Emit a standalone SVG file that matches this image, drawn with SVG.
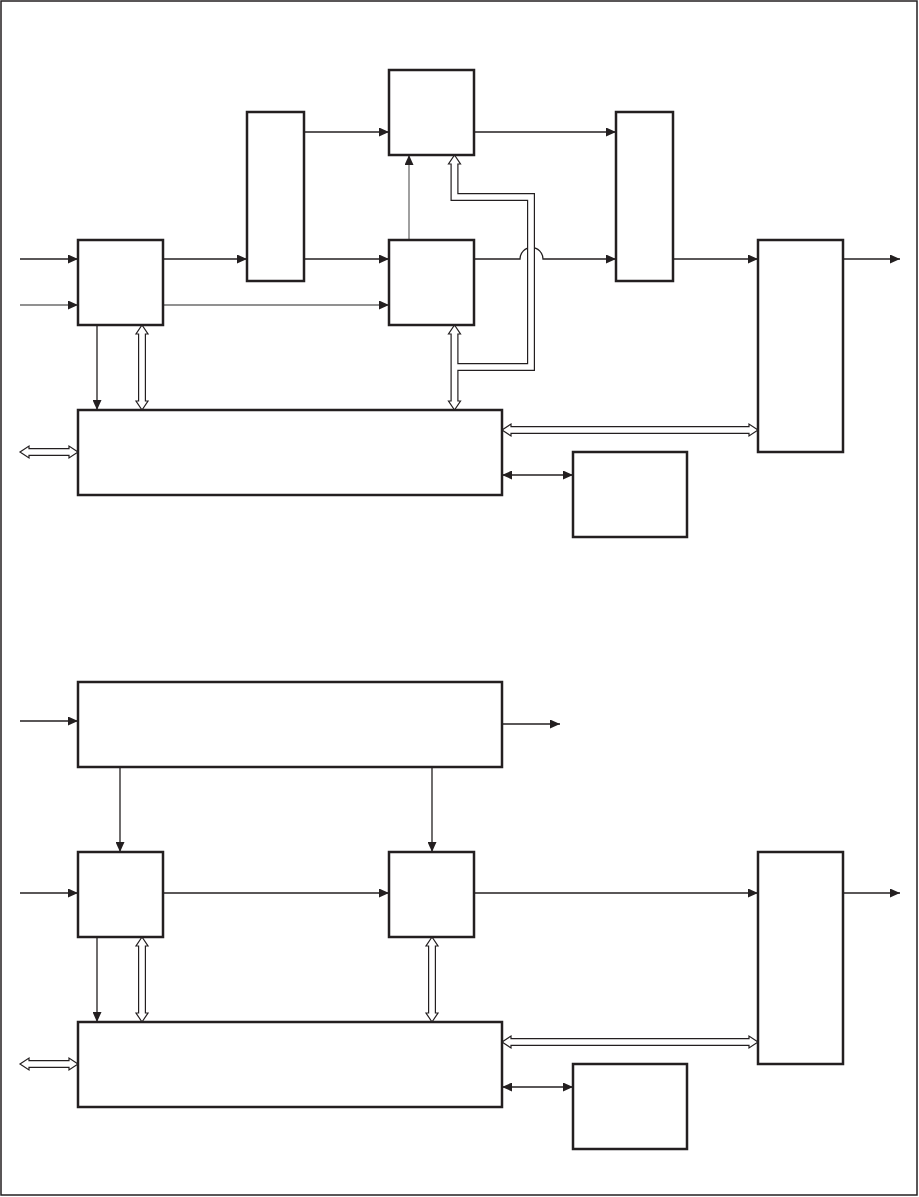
<svg xmlns="http://www.w3.org/2000/svg" width="919" height="1197" viewBox="0 0 919 1197">
<style>
.box{fill:#fff;stroke:#231f20;stroke-width:2.5}
.ln{fill:none;stroke:#231f20;stroke-width:1.3}
.gr{stroke:#6d6d6d}
.hb{fill:none;stroke:#231f20;stroke-width:8;stroke-linejoin:miter}
.hw{fill:none;stroke:#fff;stroke-width:5.6;stroke-linejoin:miter}
.hh{fill:#fff;stroke:#231f20;stroke-width:1.2;stroke-linejoin:miter}
</style>
<defs>
<marker id="ar" markerUnits="userSpaceOnUse" markerWidth="10" markerHeight="9" refX="10" refY="4.5" orient="auto-start-reverse">
<path d="M0,0 L10,4.5 L0,9 z" fill="#231f20"/>
</marker>
</defs>
<rect x="1" y="1" width="916" height="1194" fill="#fff" stroke="#231f20" stroke-width="1.5"/>

<g id="connectors">
<!-- top solid -->
<path class="ln" d="M20,259 H78" marker-end="url(#ar)"/>
<path class="ln gr" d="M20,305 H78" marker-end="url(#ar)"/>
<path class="ln" d="M163,259 H247" marker-end="url(#ar)"/>
<path class="ln gr" d="M163,305 H389" marker-end="url(#ar)"/>
<path class="ln" d="M304,132 H389" marker-end="url(#ar)"/>
<path class="ln" d="M304,259 H389" marker-end="url(#ar)"/>
<path class="ln gr" d="M409,240 V155" marker-end="url(#ar)"/>
<path class="ln" d="M474,132 H616" marker-end="url(#ar)"/>
<path class="ln" d="M474,259 H520 A11.5,11.5 0 0 1 543,259 H616" marker-end="url(#ar)"/>
<path class="ln" d="M673,259 H758" marker-end="url(#ar)"/>
<path class="ln" d="M843,259 H900" marker-end="url(#ar)"/>
<path class="ln" d="M97,325 V410" marker-end="url(#ar)"/>
<path class="ln" d="M502,475 H573" marker-start="url(#ar)" marker-end="url(#ar)"/>
<!-- bottom solid -->
<path class="ln" d="M20,721 H78" marker-end="url(#ar)"/>
<path class="ln" d="M502,724 H560" marker-end="url(#ar)"/>
<path class="ln" d="M120,767 V852" marker-end="url(#ar)"/>
<path class="ln" d="M432,767 V852" marker-end="url(#ar)"/>
<path class="ln" d="M20,893 H78" marker-end="url(#ar)"/>
<path class="ln" d="M163,893 H389" marker-end="url(#ar)"/>
<path class="ln" d="M474,893 H758" marker-end="url(#ar)"/>
<path class="ln" d="M843,893 H900" marker-end="url(#ar)"/>
<path class="ln" d="M97,937 V1022" marker-end="url(#ar)"/>
<path class="ln" d="M502,1087 H573" marker-start="url(#ar)" marker-end="url(#ar)"/>

<!-- hollow arrows: black shafts -->
<path class="hb" d="M142,334 V401"/>
<path class="hb" d="M454.5,164 V197 H531 V367 H454.5"/>
<path class="hb" d="M454.5,334 V401"/>
<path class="hb" d="M511,430 H749"/>
<path class="hb" d="M29,452 H69"/>
<path class="hb" d="M142,946 V1013"/>
<path class="hb" d="M432,946 V1013"/>
<path class="hb" d="M511,1042 H749"/>
<path class="hb" d="M29,1064 H69"/>
<!-- hollow heads -->
<polygon class="hh" points="142,325 148,334 136,334"/>
<polygon class="hh" points="142,410 148,401 136,401"/>
<polygon class="hh" points="454.5,155 460.5,164 448.5,164"/>
<polygon class="hh" points="454.5,325 460.5,334 448.5,334"/>
<polygon class="hh" points="454.5,410 460.5,401 448.5,401"/>
<polygon class="hh" points="502,430 511,424 511,436"/>
<polygon class="hh" points="758,430 749,424 749,436"/>
<polygon class="hh" points="20,452 29,446 29,458"/>
<polygon class="hh" points="78,452 69,446 69,458"/>
<polygon class="hh" points="142,937 148,946 136,946"/>
<polygon class="hh" points="142,1022 148,1013 136,1013"/>
<polygon class="hh" points="432,937 438,946 426,946"/>
<polygon class="hh" points="432,1022 438,1013 426,1013"/>
<polygon class="hh" points="502,1042 511,1036 511,1048"/>
<polygon class="hh" points="758,1042 749,1036 749,1048"/>
<polygon class="hh" points="20,1064 29,1058 29,1070"/>
<polygon class="hh" points="78,1064 69,1058 69,1070"/>
<!-- white cores -->
<path class="hw" d="M142,332 V403"/>
<path class="hw" d="M454.5,162 V197 H531 V367 H454.5"/>
<path class="hw" d="M454.5,332 V403"/>
<path class="hw" d="M509,430 H751"/>
<path class="hw" d="M27,452 H71"/>
<path class="hw" d="M142,944 V1015"/>
<path class="hw" d="M432,944 V1015"/>
<path class="hw" d="M509,1042 H751"/>
<path class="hw" d="M27,1064 H71"/>
</g>

<g id="nodeA"><rect class="box" x="78" y="240" width="85" height="85"/></g>
<g id="nodeB"><rect class="box" x="247" y="112" width="57" height="169"/></g>
<g id="nodeC"><rect class="box" x="389" y="70" width="85" height="85"/></g>
<g id="nodeD"><rect class="box" x="389" y="240" width="85" height="85"/></g>
<g id="nodeE"><rect class="box" x="616" y="112" width="57" height="169"/></g>
<g id="nodeF"><rect class="box" x="758" y="240" width="85" height="212"/></g>
<g id="nodeG"><rect class="box" x="78" y="410" width="424" height="85"/></g>
<g id="nodeH"><rect class="box" x="573" y="452" width="114" height="85"/></g>
<g id="nodeI"><rect class="box" x="78" y="682" width="424" height="85"/></g>
<g id="nodeJ"><rect class="box" x="78" y="852" width="85" height="85"/></g>
<g id="nodeK"><rect class="box" x="389" y="852" width="85" height="85"/></g>
<g id="nodeL"><rect class="box" x="758" y="852" width="85" height="212"/></g>
<g id="nodeM"><rect class="box" x="78" y="1022" width="424" height="85"/></g>
<g id="nodeN"><rect class="box" x="573" y="1064" width="114" height="85"/></g>
</svg>
